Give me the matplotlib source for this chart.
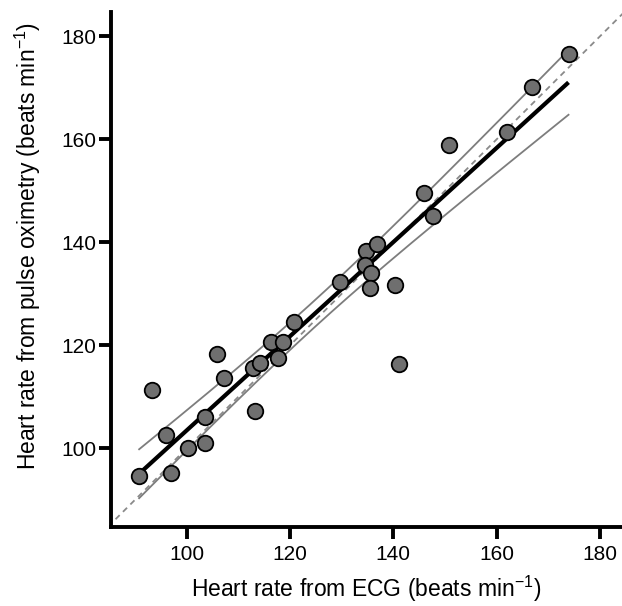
import numpy as np
import matplotlib
matplotlib.use("Agg")
import matplotlib.pyplot as plt

plt.rcParams["font.family"] = ["Liberation Sans", "DejaVu Sans"]
plt.rcParams["mathtext.default"] = "regular"

# heart rate pairs (beats min^-1)
hr_ecg = [90.8, 96.9, 93.2, 96.0, 100.2, 103.5, 103.5, 105.8, 107.3, 113.2,
          112.8, 114.2, 116.3, 118.7, 117.7, 120.8, 129.7, 134.7, 136.8, 134.5,
          135.6, 135.5, 140.3, 141.0, 145.9, 147.7, 150.8, 162.0, 166.9, 173.9]
hr_spo2 = [94.6, 95.3, 111.3, 102.6, 100.0, 101.1, 106.0, 118.3, 113.6, 107.3,
           115.5, 116.5, 120.7, 120.6, 117.6, 124.6, 132.2, 138.3, 139.7, 135.5,
           134.1, 131.2, 131.8, 116.4, 149.5, 145.1, 158.9, 161.4, 170.2, 176.6]
ticks = [100, 120, 140, 160, 180]
T_CRIT = 2.048  # t(0.975, df=28)

x = np.array(hr_ecg)
y = np.array(hr_spo2)
n = len(x)

# least squares fit + 95% confidence band of the mean
slope, intercept = np.polyfit(x, y, 1)
resid = y - (slope * x + intercept)
s = np.sqrt(np.sum(resid ** 2) / (n - 2))
sxx = np.sum((x - x.mean()) ** 2)
xf = np.linspace(x.min(), x.max(), 200)
yf = slope * xf + intercept
half = T_CRIT * s * np.sqrt(1 / n + (xf - x.mean()) ** 2 / sxx)

fig = plt.figure(figsize=(6.22, 6.06), dpi=100)
ax = fig.add_axes([0.178, 0.131, 0.822, 0.850])
xlim = (85.3, 184.25)
ylim = (84.8, 184.8)
ax.set_xlim(xlim)
ax.set_ylim(ylim)

# line of identity
lo, hi = min(xlim[0], ylim[0]), max(xlim[1], ylim[1])
ax.plot([lo, hi], [lo, hi], color="#8a8a8a", lw=1.3, ls=(0, (3.2, 2.6)), zorder=1)

ax.plot(xf, yf + half, color="#7d7d7d", lw=1.3, zorder=2)
ax.plot(xf, yf - half, color="#7d7d7d", lw=1.3, zorder=2)
ax.plot(xf, yf, color="black", lw=3.0, solid_capstyle="butt", zorder=3)

ax.scatter(x, y, s=125, facecolor="#6f6f6f", edgecolor="black", linewidth=1.3, zorder=4)

for side in ("top", "right"):
    ax.spines[side].set_visible(False)
for side in ("left", "bottom"):
    ax.spines[side].set_linewidth(2.8)
ax.set_xticks(ticks)
ax.set_yticks(ticks)
ax.tick_params(axis="both", length=8.5, width=2.8, labelsize=15, color="black")
ax.tick_params(axis="x", pad=5)
ax.tick_params(axis="y", pad=2)

ax.set_xlabel("Heart rate from ECG (beats min$^{-1}$)", fontsize=16.5, labelpad=7)
ax.set_ylabel("Heart rate from pulse oximetry (beats min$^{-1}$)", fontsize=16.5, labelpad=13)
ax.yaxis.label.set_y(0.545)

fig.savefig("out.png", dpi=100)
